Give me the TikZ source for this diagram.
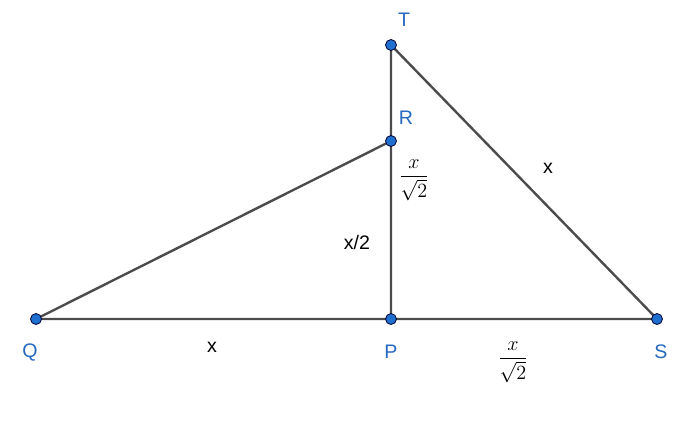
\documentclass[tikz,border=0pt]{standalone}
\usepackage{amsmath}
\usepackage{fontspec}
\setmainfont{Liberation Sans}
\definecolor{gblue}{HTML}{1E6FD0}
\definecolor{lblue}{HTML}{2468C0}
\begin{document}
\begin{tikzpicture}[x=1pt,y=-1pt,
  seg/.style={draw=black!70,line width=2.4pt},
  pt/.style={circle,fill=gblue,draw=blue!20!black,line width=0.8pt,inner sep=0pt,minimum size=11pt},
  lbl/.style={text=lblue,scale=1.4,font=\fontsize{14}{17}\selectfont},
  txt/.style={scale=1.4,font=\fontsize{14}{17}\selectfont}]
\useasboundingbox (0,0) rectangle (698,424);
\coordinate (Q) at (36,319);
\coordinate (P) at (391,319);
\coordinate (S) at (657,319);
\coordinate (T) at (391,45);
\coordinate (R) at (391,141);
\draw[seg] (Q) -- (S) -- (T) -- (P);
\draw[seg] (Q) -- (R);
\foreach \p in {Q,P,S,T,R} \node[pt] (n\p) at (\p) {};
\node[lbl] (lT) at (404,20) {T};
\node[lbl] (lR) at (406,118) {R};
\node[lbl] (lQ) at (30,352) {Q};
\node[lbl] (lP) at (391,352) {P};
\node[lbl] (lS) at (661,352) {S};
\node[txt] (a) at (548,168) {x};
\node[txt] (b) at (357,242) {x/2};
\node[txt] (c) at (414,180) {$\dfrac{x}{\sqrt{2}}$};
\node[txt] (d) at (212,347) {x};
\node[txt] (e) at (513,362) {$\dfrac{x}{\sqrt{2}}$};
\end{tikzpicture}
\end{document}
